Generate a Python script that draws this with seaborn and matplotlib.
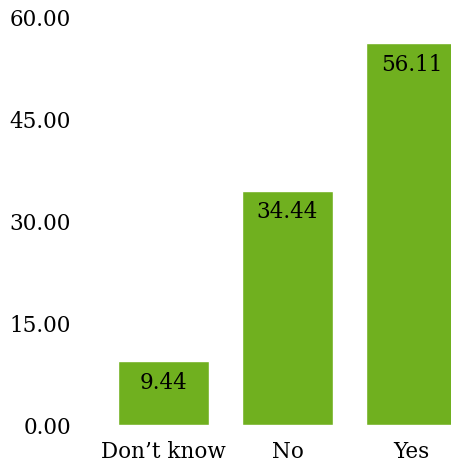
import matplotlib
matplotlib.use("Agg")
import matplotlib.pyplot as plt
import seaborn as sns
import pandas as pd

categories = ["Don\u2019t know", "No", "Yes"]
values = [9.44, 34.44, 56.11]
yticks = [0, 15, 30, 45, 60]

sns.set_theme(style="white")
plt.rcParams['font.family'] = ['DejaVu Serif']

W, H = 451, 464
fig = plt.figure(figsize=(W/100, H/100), dpi=100)
left_px, right_px, top_px, bot_px = 80, 451, 17.5, 426
ax = fig.add_axes([left_px/W, (H-bot_px)/H, (right_px-left_px)/W, (bot_px-top_px)/H])

df = pd.DataFrame({"cat": categories, "val": values})
sns.barplot(data=df, x="cat", y="val", color="#70B01F", saturation=1, width=0.73, ax=ax)

ax.set_ylim(0, 60)
ppu = 124
ax.set_xlim((left_px-163.5)/ppu, (right_px-163.5)/ppu)
ax.set_yticks(yticks)
ax.set_yticklabels([f"{v:.2f}" for v in yticks])
ax.set_xlabel("")
ax.set_ylabel("")
for s in ax.spines.values():
    s.set_visible(False)
ax.tick_params(axis='y', length=0, pad=6.5, labelsize=15.5, colors="black")
ax.tick_params(axis='x', length=0, pad=11, labelsize=15.5, colors="black")
for lbl in ax.get_yticklabels():
    lbl.set_y(lbl.get_position()[1])

for i, v in enumerate(values):
    ax.annotate(f"{v:.2f}", xy=(i, v), xytext=(0, -15), textcoords="offset points",
                ha="center", va="center", fontsize=15.5, color="black")

fig.savefig("out.png", dpi=100)
